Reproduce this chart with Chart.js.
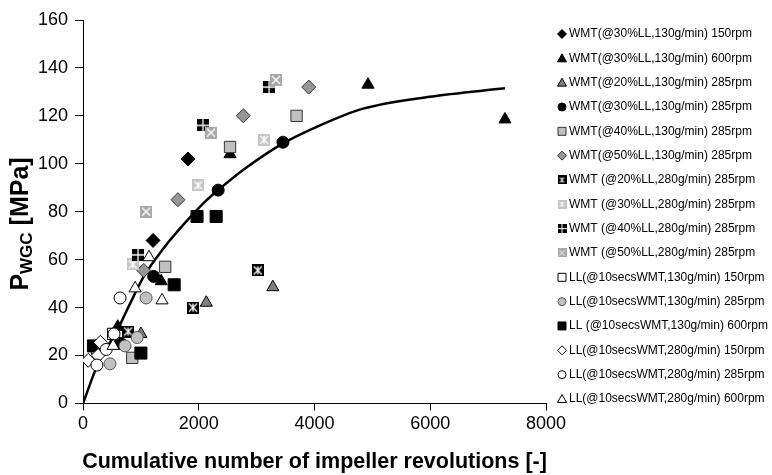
<!DOCTYPE html>
<html lang="en">
<head>
  <meta charset="UTF-8" />
  <title>P_WGC vs cumulative impeller revolutions</title>
  <script src="https://cdn.jsdelivr.net/npm/chart.js"></script>
  <style>
    body {
      margin: 0;
      background: #fff;
    }
    #wrap {
      width: 772px;
      height: 475px;
    }
  </style>
</head>
<body>

  <div id="wrap"><canvas id="chart" width="772" height="475"></canvas></div>

  <script>
    // series names, in legend order
    const seriesNames = [
      'WMT(@30%LL,130g/min) 150rpm',
      'WMT(@30%LL,130g/min) 600rpm',
      'WMT(@20%LL,130g/min) 285rpm',
      'WMT(@30%LL,130g/min) 285rpm',
      'WMT(@40%LL,130g/min) 285rpm',
      'WMT(@50%LL,130g/min) 285rpm',
      'WMT (@20%LL,280g/min) 285rpm',
      'WMT (@30%LL,280g/min) 285rpm',
      'WMT (@40%LL,280g/min) 285rpm',
      'WMT (@50%LL,280g/min) 285rpm',
      'LL(@10secsWMT,130g/min) 150rpm',
      'LL(@10secsWMT,130g/min) 285rpm',
      'LL (@10secsWMT,130g/min) 600rpm',
      'LL(@10secsWMT,280g/min) 150rpm',
      'LL(@10secsWMT,280g/min) 285rpm',
      'LL(@10secsWMT,280g/min) 600rpm'
    ];

    // revolutions (x) and pressure in MPa (y)
    const wmt30_130_150_x = [1210, 1814];
    const wmt30_130_150_y = [68, 102];
    const wmt30_130_600_x = [600, 1350, 2540, 4924, 7291];
    const wmt30_130_600_y = [32, 51, 104, 133, 118.5];
    const wmt20_130_285_x = [1000, 2130, 3280];
    const wmt20_130_285_y = [29, 42, 48.5];
    const wmt30_130_285_x = [650, 1220, 2335, 3455];
    const wmt30_130_285_y = [25, 53, 89, 109];
    const wmt40_130_285_x = [850, 1420, 2540, 3690];
    const wmt40_130_285_y = [19, 57, 107, 120];
    const wmt50_130_285_x = [1050, 1640, 2770, 3900];
    const wmt50_130_285_y = [55.5, 85, 120, 132];
    const wmt20_280_285_x = [780, 1900, 3020];
    const wmt20_280_285_y = [30, 40, 55.5];
    const wmt30_280_285_x = [860, 1990, 3130];
    const wmt30_280_285_y = [58, 91, 110];
    const wmt40_280_285_x = [950, 2070, 3215];
    const wmt40_280_285_y = [62, 116, 132];
    const wmt50_280_285_x = [1090, 2210, 3335];
    const wmt50_280_285_y = [80, 113, 135];
    const ll_130_150_x = [240, 520];
    const ll_130_150_y = [23, 29];
    const ll_130_285_x = [466, 725, 935, 1090];
    const ll_130_285_y = [16.5, 24, 27.5, 44];
    const ll_130_600_x = [180, 1000, 1575, 1970, 2300];
    const ll_130_600_y = [24, 21, 49.5, 78, 78];
    const ll_280_150_x = [90, 260, 300];
    const ll_280_150_y = [18, 20, 25.5];
    const ll_280_285_x = [240, 400, 535, 640];
    const ll_280_285_y = [16, 22.5, 29, 44];
    const ll_280_600_x = [520, 900, 1140, 1365];
    const ll_280_600_y = [24, 48, 61, 43];

    // fitted trend line
    const curveX = [0, 250, 600, 800, 1050, 1400, 1750, 2100, 2335, 2800, 3455, 4000, 4838, 5995, 7291];
    const curveY = [0, 16, 31, 41, 53, 65, 75, 84, 89, 98, 108.5, 115, 123, 128, 131.5];

    const xTicks = [0, 2000, 4000, 6000, 8000];
    const yTicks = [0, 20, 40, 60, 80, 100, 120, 140, 160];

    const allX = [wmt30_130_150_x, wmt30_130_600_x, wmt20_130_285_x, wmt30_130_285_x, wmt40_130_285_x,
      wmt50_130_285_x, wmt20_280_285_x, wmt30_280_285_x, wmt40_280_285_x, wmt50_280_285_x,
      ll_130_150_x, ll_130_285_x, ll_130_600_x, ll_280_150_x, ll_280_285_x, ll_280_600_x];
    const allY = [wmt30_130_150_y, wmt30_130_600_y, wmt20_130_285_y, wmt30_130_285_y, wmt40_130_285_y,
      wmt50_130_285_y, wmt20_280_285_y, wmt30_280_285_y, wmt40_280_285_y, wmt50_280_285_y,
      ll_130_150_y, ll_130_285_y, ll_130_600_y, ll_280_150_y, ll_280_285_y, ll_280_600_y];

    const FONT = 'Arial, "Liberation Sans", sans-serif';

    // patterned square markers (x / + / starburst)
    function boxMarker(size, fill, pattern, lw) {
      const c = document.createElement('canvas');
      c.width = size;
      c.height = size;
      const g = c.getContext('2d');
      g.fillStyle = fill;
      g.fillRect(0, 0, size, size);
      g.strokeStyle = '#fff';
      g.lineWidth = lw;
      const m = size / 2;
      const p = 2;
      g.beginPath();
      if (pattern.indexOf('x') >= 0) {
        g.moveTo(p, p); g.lineTo(size - p, size - p);
        g.moveTo(size - p, p); g.lineTo(p, size - p);
      }
      if (pattern.indexOf('+') >= 0) {
        const q = pattern.indexOf('x') >= 0 ? p : 0;
        g.moveTo(m, q); g.lineTo(m, size - q);
        if (pattern.indexOf('x') < 0) {
          g.moveTo(q, m); g.lineTo(size - q, m);
        }
      }
      g.stroke();
      return c;
    }

    function boxSet(size, lw) {
      return [
        boxMarker(size, '#000', 'x+', lw),
        boxMarker(size, '#c4c4c4', 'x+', lw),
        boxMarker(size, '#000', '+', lw),
        boxMarker(size, '#a8a8a8', 'x', lw)
      ];
    }
    const bigBoxes = boxSet(12, 1.3);
    const smallBoxes = boxSet(9, 1);

    // style per series: shape, fill, border, radius
    const styles = [
      { shape: 'rectRot', fill: '#000', line: '#000', r: 7 },
      { shape: 'triangle', fill: '#000', line: '#000', r: 7 },
      { shape: 'triangle', fill: '#7f7f7f', line: '#000', r: 7 },
      { shape: 'circle', fill: '#000', line: '#000', r: 6 },
      { shape: 'rect', fill: '#c0c0c0', line: '#333', r: 8 },
      { shape: 'rectRot', fill: '#969696', line: '#333', r: 7 },
      { shape: 0, fill: null, line: null, r: 6 },
      { shape: 1, fill: null, line: null, r: 6 },
      { shape: 2, fill: null, line: null, r: 6 },
      { shape: 3, fill: null, line: null, r: 6 },
      { shape: 'rect', fill: '#fff', line: '#000', r: 8 },
      { shape: 'circle', fill: '#c0c0c0', line: '#555', r: 6 },
      { shape: 'rect', fill: '#000', line: '#000', r: 8.5 },
      { shape: 'rectRot', fill: '#fff', line: '#000', r: 7 },
      { shape: 'circle', fill: '#fff', line: '#000', r: 6 },
      { shape: 'triangle', fill: '#fff', line: '#000', r: 7 }
    ];

    const datasets = seriesNames.map((name, i) => {
      const st = styles[i];
      const isBox = typeof st.shape === 'number';
      return {
        type: 'scatter',
        label: name,
        data: allX[i].map((x, k) => ({ x: x, y: allY[i][k] })),
        pointStyle: isBox ? bigBoxes[st.shape] : st.shape,
        pointRadius: st.r,
        pointBackgroundColor: st.fill || '#000',
        pointBorderColor: st.line || '#000',
        pointBorderWidth: isBox ? 0 : 1,
        showLine: false,
        order: -i
      };
    });

    datasets.push({
      type: 'line',
      label: 'trend',
      data: curveX.map((x, k) => ({ x: x, y: curveY[k] })),
      borderColor: '#000',
      borderWidth: 2.5,
      pointRadius: 0,
      fill: false,
      cubicInterpolationMode: 'monotone',
      order: 100
    });

    function legendMarker(ctx, i, x, y) {
      const st = styles[i];
      ctx.save();
      ctx.fillStyle = st.fill || '#000';
      ctx.strokeStyle = st.line || '#000';
      ctx.lineWidth = 1;
      const r = 4;
      ctx.beginPath();
      if (typeof st.shape === 'number') {
        ctx.drawImage(smallBoxes[st.shape], x - 4.5, y - 4.5);
        ctx.restore();
        return;
      } else if (st.shape === 'circle') {
        ctx.arc(x, y, r, 0, Math.PI * 2);
      } else if (st.shape === 'rect') {
        ctx.rect(x - r, y - r, 2 * r, 2 * r);
      } else if (st.shape === 'rectRot') {
        ctx.moveTo(x, y - r - 0.5); ctx.lineTo(x + r + 0.5, y);
        ctx.lineTo(x, y + r + 0.5); ctx.lineTo(x - r - 0.5, y);
        ctx.closePath();
      } else if (st.shape === 'triangle') {
        ctx.moveTo(x, y - r - 0.5); ctx.lineTo(x + r + 0.5, y + r - 0.5);
        ctx.lineTo(x - r - 0.5, y + r - 0.5);
        ctx.closePath();
      }
      ctx.fill();
      ctx.stroke();
      ctx.restore();
    }

    const customDraw = {
      id: 'customDraw',
      afterDraw(chart) {
        const ctx = chart.ctx;
        const area = chart.chartArea;
        ctx.save();
        // legend
        ctx.font = '12px ' + FONT;
        ctx.textBaseline = 'middle';
        ctx.textAlign = 'left';
        ctx.fillStyle = '#000';
        seriesNames.forEach((name, i) => {
          const y = 34 + i * 24.33;
          legendMarker(ctx, i, 562, y);
          ctx.fillStyle = '#000';
          ctx.fillText(name, 569, y);
        });

        // x title
        ctx.font = 'bold 21.5px ' + FONT;
        ctx.textAlign = 'center';
        ctx.textBaseline = 'middle';
        ctx.fillText('Cumulative number of impeller revolutions [-]', (area.left + area.right) / 2, 462);

        // y title with subscript
        ctx.translate(20, 224);
        ctx.rotate(-Math.PI / 2);
        const big = 'bold 25px ' + FONT;
        const small = 'bold 17px ' + FONT;
        ctx.font = big;
        const wP = ctx.measureText('P').width;
        const wRest = ctx.measureText(' [MPa]').width;
        ctx.font = small;
        const wSub = ctx.measureText('WGC').width;
        let x0 = -(wP + wSub + wRest) / 2;
        ctx.textAlign = 'left';
        ctx.textBaseline = 'alphabetic';
        ctx.font = big;
        ctx.fillText('P', x0, 8);
        ctx.font = small;
        ctx.fillText('WGC', x0 + wP, 12);
        ctx.font = big;
        ctx.fillText(' [MPa]', x0 + wP + wSub, 8);
        ctx.restore();
      }
    };

    new Chart(document.getElementById('chart').getContext('2d'), {
      type: 'scatter',
      data: { datasets: datasets },
      options: {
        responsive: false,
        animation: false,
        layout: {
          padding: { left: 31, right: 226, top: 20, bottom: 37 }
        },
        plugins: {
          legend: { display: false },
          tooltip: { enabled: false }
        },
        scales: {
          x: {
            type: 'linear',
            min: 0,
            max: 8000,
            afterBuildTicks: (axis) => { axis.ticks = xTicks.map(v => ({ value: v })); },
            grid: { display: true, drawOnChartArea: false, drawTicks: true, tickLength: 7, color: '#000' },
            border: { color: '#000', width: 1 },
            ticks: { color: '#000', font: { family: FONT, size: 18 }, padding: 3, callback: (v) => String(v) }
          },
          y: {
            type: 'linear',
            min: 0,
            max: 160,
            afterBuildTicks: (axis) => { axis.ticks = yTicks.map(v => ({ value: v })); },
            grid: { display: true, drawOnChartArea: false, drawTicks: true, tickLength: 8, color: '#000' },
            border: { color: '#000', width: 1 },
            ticks: { color: '#000', font: { family: FONT, size: 18 }, padding: 7, callback: (v) => String(v) }
          }
        }
      },
      plugins: [customDraw]
    });
  </script>

</body>
</html>
